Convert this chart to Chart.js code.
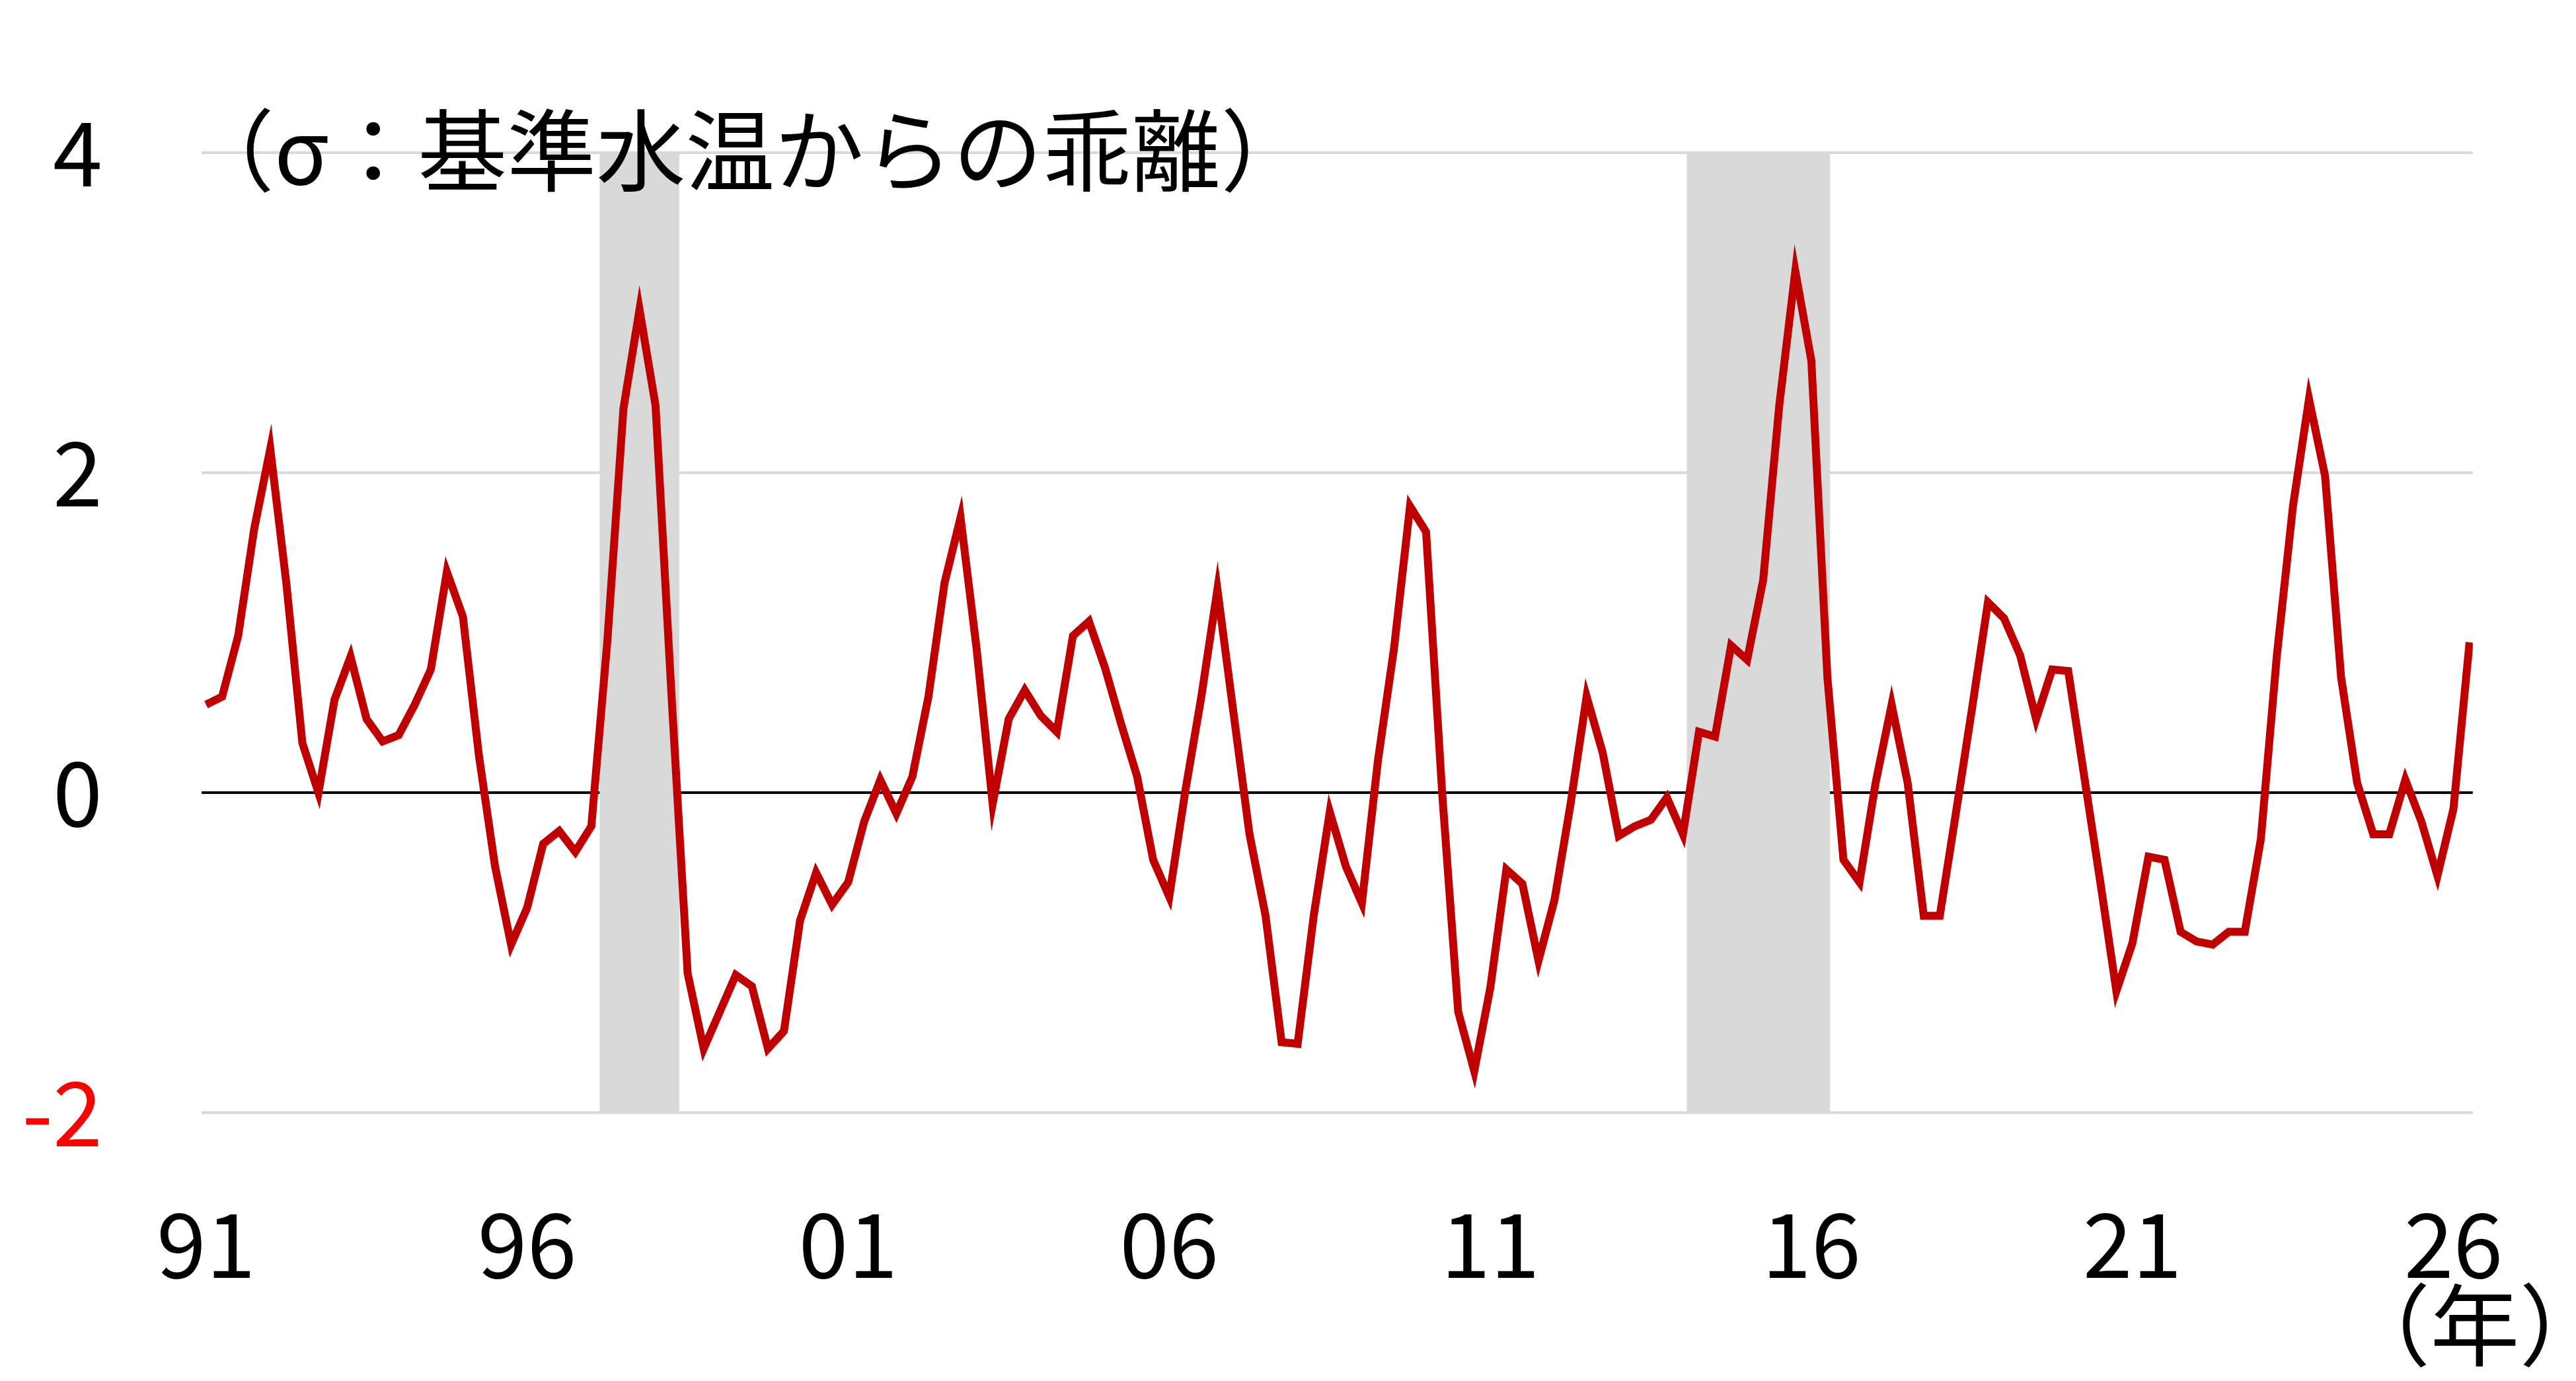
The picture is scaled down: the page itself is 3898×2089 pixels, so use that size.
<!DOCTYPE html>
<html><head><meta charset="utf-8">
<script src="https://cdn.jsdelivr.net/npm/chart.js@4/dist/chart.umd.min.js"></script>
<style>html,body{margin:0;padding:0;background:#fff}#w{width:3898px;height:2089px}</style>
</head><body><div id="w"><canvas id="c"></canvas></div>
<script>
const startYear = 1991;
const values = [0.55,0.6,0.98,1.65,2.15,1.31,0.31,0,0.58,0.85,
0.46,0.32,0.36,0.55,0.77,1.38,1.1,0.23,-0.46,-0.95,
-0.72,-0.32,-0.24,-0.37,-0.21,0.95,2.4,3.02,2.42,0.6,
-1.13,-1.6,-1.37,-1.14,-1.21,-1.6,-1.49,-0.8,-0.5,-0.7,
-0.56,-0.18,0.08,-0.13,0.1,0.6,1.31,1.72,0.9,-0.07,
0.46,0.64,0.48,0.38,0.98,1.07,0.78,0.43,0.1,-0.42,
-0.65,0.01,0.6,1.27,0.5,-0.26,-0.77,-1.56,-1.57,-0.77,
-0.12,-0.46,-0.69,0.2,0.9,1.79,1.63,0,-1.37,-1.74,
-1.22,-0.48,-0.57,-1.05,-0.67,-0.07,0.6,0.25,-0.27,-0.21,
-0.17,-0.03,-0.26,0.38,0.35,0.92,0.83,1.33,2.42,3.26,
2.7,0.72,-0.42,-0.56,0.06,0.55,0.06,-0.77,-0.77,-0.13,
0.52,1.19,1.09,0.86,0.46,0.77,0.76,0.1,-0.56,-1.24,
-0.94,-0.4,-0.42,-0.87,-0.93,-0.95,-0.87,-0.87,-0.29,0.86,
1.79,2.46,1.98,0.72,0.06,-0.26,-0.26,0.08,-0.18,-0.52,
-0.1,0.94];
const xTicks = [1991,1996,2001,2006,2011,2016,2021,2026];
const xTickLabels = ["91","96","01","06","11","16","21","26"];
const yTicks = [-2,0,2,4];
const shadeStart = [1997.13, 2014.06];
const shadeEnd = [1998.37, 2016.29];
const title = "（σ：基準水温からの乖離）";
const unit = "（年）";

const pts = values.map((v,i)=>({x:startYear+i/4,y:v}));
const font = "'Noto Sans CJK JP', 'Noto Sans', sans-serif";

const deco = {
  id:'deco',
  beforeDatasetsDraw(ch){
    const {ctx,chartArea:a,scales:{x}}=ch;
    ctx.save();ctx.fillStyle='#d9d9d9';
    for(let i=0;i<shadeStart.length;i++){
      const x0=x.getPixelForValue(shadeStart[i]),x1=x.getPixelForValue(shadeEnd[i]);
      ctx.fillRect(x0,a.top,x1-x0,a.bottom-a.top);
    }
    ctx.restore();
  },
  afterDraw(ch){
    const {ctx}=ch;
    ctx.save();ctx.fillStyle='#000';ctx.font="135px "+font;ctx.textBaseline='middle';
    ctx.fillText(title,280,228);
    ctx.textAlign='center';
    ctx.fillText(unit,3745,2005);
    ctx.restore();
  }
};

new Chart(document.getElementById('c'),{
  type:'line',
  data:{datasets:[{data:pts,borderColor:'#c00000',borderWidth:12,pointRadius:0,tension:0}]},
  options:{
    responsive:true,maintainAspectRatio:false,animation:false,
    layout:{padding:{top:0,right:55,left:0,bottom:0}},
    plugins:{legend:{display:false},tooltip:{enabled:false}},
    scales:{
      x:{type:'linear',min:1990.93,max:2026.3,
        afterBuildTicks(s){s.ticks=xTicks.map(v=>({value:v}));},
        afterFit(s){s.height=406;},
        grid:{display:false},border:{display:false},
        ticks:{padding:110,color:'#000',font:{size:135,family:font},maxRotation:0,autoSkip:false,
          callback:(v)=>xTickLabels[xTicks.indexOf(v)]}},
      y:{min:-2,max:4,
        afterBuildTicks(s){s.ticks=yTicks.map(v=>({value:v}));},
        afterFit(s){s.width=305;},
        border:{display:false},
        grid:{color:(c)=>c.tick&&c.tick.value===0?'#000':'#d9d9d9',lineWidth:4,drawTicks:false},
        ticks:{padding:150,color:(c)=>c.tick.value<0?'#ff0000':'#000',font:{size:135,family:font},
          callback:(v)=>String(v)}}
    }
  },
  plugins:[deco]
});
</script></body></html>
